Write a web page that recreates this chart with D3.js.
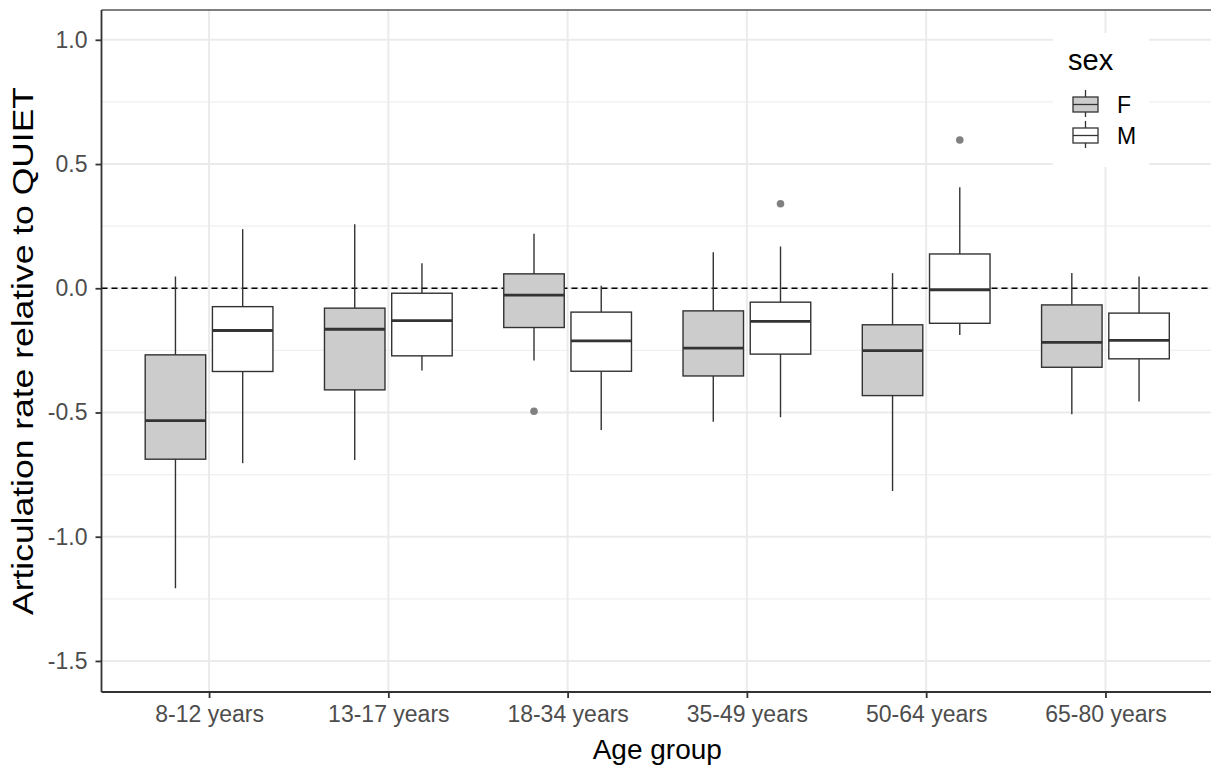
<!DOCTYPE html>
<html>
<head>
<meta charset="utf-8">
<script src="https://cdn.jsdelivr.net/npm/d3@7"></script>
<style>
  html, body { margin: 0; padding: 0; background: #fff; }
  #content { width: 1211px; height: 767px; overflow: hidden; }
  svg { display: block; font-family: "Liberation Sans", Arial, sans-serif; }
  .axis path, .axis line { stroke: #333; }
  .axis text { fill: #4d4d4d; font-size: 23px; }
</style>
</head>
<body>
<div id="content"></div>
<script>
// age groups on the x axis
var ageGroups = ["8-12 years", "13-17 years", "18-34 years", "35-49 years", "50-64 years", "65-80 years"];
var sexes = ["F", "M"];
// five number summaries: [lower whisker, q1, median, q3, upper whisker]
var femaleBoxes = [
    [-1.207, -0.688, -0.533, -0.268, 0.047],
    [-0.691, -0.409, -0.165, -0.080, 0.258],
    [-0.291, -0.158, -0.028, 0.058, 0.219],
    [-0.537, -0.353, -0.241, -0.091, 0.145],
    [-0.816, -0.432, -0.251, -0.147, 0.061],
    [-0.507, -0.318, -0.218, -0.067, 0.061]
];
var maleBoxes = [
    [-0.704, -0.335, -0.170, -0.074, 0.238],
    [-0.331, -0.272, -0.130, -0.020, 0.101],
    [-0.570, -0.334, -0.212, -0.096, 0.010],
    [-0.519, -0.265, -0.133, -0.056, 0.168],
    [-0.188, -0.141, -0.006, 0.138, 0.407],
    [-0.456, -0.284, -0.210, -0.100, 0.047]
];
// outliers: [age group, value]
var femaleOutliers = [["18-34 years", -0.495]];
var maleOutliers = [["35-49 years", 0.340], ["50-64 years", 0.597]];
var yTicks = [-1.5, -1.0, -0.5, 0.0, 0.5, 1.0];
var yMinorTicks = [-1.25, -0.75, -0.25, 0.25, 0.75];
var fills = {F: "#cccccc", M: "#ffffff"};

(function(d3) {
    var width = 1211, height = 767;
    var margin = {top: 10, left: 101.5, bottom: 75};

    var svg = d3.select("#content").append("svg")
        .attr("width", width).attr("height", height);

    var x = d3.scalePoint()
        .domain(ageGroups)
        .range([margin.left, 1213])
        .padding(0.6);
    var step = x.step();
    var dodge = d3.scaleBand().domain(sexes).range([-0.375 * step, 0.375 * step]);
    var boxW = dodge.bandwidth() * 0.9;

    var y = d3.scaleLinear()
        .domain([-1.625, 1.12])
        .range([height - margin.bottom, margin.top]);

    var plotBottom = height - margin.bottom;

    // grid
    var grid = svg.append("g");
    grid.selectAll("line.minor").data(yMinorTicks).enter().append("line")
        .attr("x1", margin.left).attr("x2", width)
        .attr("y1", function(d) { return y(d); }).attr("y2", function(d) { return y(d); })
        .attr("stroke", "#f0f0f0").attr("stroke-width", 1.2);
    grid.selectAll("line.hmajor").data(yTicks).enter().append("line")
        .attr("x1", margin.left).attr("x2", width)
        .attr("y1", function(d) { return y(d); }).attr("y2", function(d) { return y(d); })
        .attr("stroke", "#ebebeb").attr("stroke-width", 2);
    grid.selectAll("line.vmajor").data(ageGroups).enter().append("line")
        .attr("y1", margin.top).attr("y2", plotBottom)
        .attr("x1", function(d) { return x(d); }).attr("x2", function(d) { return x(d); })
        .attr("stroke", "#ebebeb").attr("stroke-width", 2);

    // zero reference line
    svg.append("line")
        .attr("x1", margin.left).attr("x2", width)
        .attr("y1", y(0)).attr("y2", y(0))
        .attr("stroke", "#000").attr("stroke-width", 1.4)
        .attr("stroke-dasharray", "6,4");

    function drawBoxes(boxes, sex) {
        var g = svg.append("g");
        var data = boxes.map(function(b, i) { return {group: ageGroups[i], s: b}; });
        var cx = function(d) { return x(d.group) + dodge(sex) + dodge.bandwidth() / 2; };
        g.selectAll("line.whisker").data(data).enter().append("line")
            .attr("x1", cx).attr("x2", cx)
            .attr("y1", function(d) { return y(d.s[0]); })
            .attr("y2", function(d) { return y(d.s[4]); })
            .attr("stroke", "#333").attr("stroke-width", 1.4);
        g.selectAll("rect").data(data).enter().append("rect")
            .attr("x", function(d) { return cx(d) - boxW / 2; })
            .attr("width", boxW)
            .attr("y", function(d) { return y(d.s[3]); })
            .attr("height", function(d) { return y(d.s[1]) - y(d.s[3]); })
            .attr("fill", fills[sex]).attr("stroke", "#333").attr("stroke-width", 1.4);
        g.selectAll("line.median").data(data).enter().append("line")
            .attr("x1", function(d) { return cx(d) - boxW / 2; })
            .attr("x2", function(d) { return cx(d) + boxW / 2; })
            .attr("y1", function(d) { return y(d.s[2]); })
            .attr("y2", function(d) { return y(d.s[2]); })
            .attr("stroke", "#333").attr("stroke-width", 2.8);
    }
    drawBoxes(femaleBoxes, "F");
    drawBoxes(maleBoxes, "M");

    function drawOutliers(points, sex) {
        svg.append("g").selectAll("circle").data(points).enter().append("circle")
            .attr("cx", function(d) { return x(d[0]) + dodge(sex) + dodge.bandwidth() / 2; })
            .attr("cy", function(d) { return y(d[1]); })
            .attr("r", 3.8)
            .attr("fill", "#808080");
    }
    drawOutliers(femaleOutliers, "F");
    drawOutliers(maleOutliers, "M");

    // legend
    var legend = svg.append("g").attr("transform", "translate(1053,33)");
    legend.append("rect").attr("width", 96).attr("height", 134).attr("fill", "#fff");
    legend.append("text").attr("x", 15).attr("y", 37)
        .attr("font-size", 29).attr("fill", "#000").text("sex");
    sexes.forEach(function(s, i) {
        var ky = 64 + i * 31;
        var k = legend.append("g").attr("transform", "translate(20," + ky + ")");
        k.append("line").attr("x1", 12.5).attr("x2", 12.5).attr("y1", -7).attr("y2", 20)
            .attr("stroke", "#333").attr("stroke-width", 1.3);
        k.append("rect").attr("x", 0).attr("y", 0).attr("width", 25).attr("height", 15)
            .attr("fill", fills[s]).attr("stroke", "#333").attr("stroke-width", 1.3);
        k.append("line").attr("x1", 0).attr("x2", 25).attr("y1", 7.5).attr("y2", 7.5)
            .attr("stroke", "#333").attr("stroke-width", 1.3);
        legend.append("text").attr("x", 64).attr("y", ky + 16)
            .attr("font-size", 23).attr("fill", "#000").text(s);
    });

    // panel border
    svg.append("line").attr("x1", margin.left).attr("x2", width)
        .attr("y1", margin.top).attr("y2", margin.top)
        .attr("stroke", "#555").attr("stroke-width", 1.3);

    // axes
    svg.append("g")
        .attr("class", "axis yaxis")
        .attr("transform", "translate(" + margin.left + ",0)")
        .call(d3.axisLeft(y).tickValues(yTicks).tickSize(6).tickPadding(8)
            .tickFormat(function(d) { return d.toFixed(1); }))
        .call(function(g) { g.select(".domain").attr("stroke-width", 1.8).attr("d", "M0," + margin.top + "V" + plotBottom); })
        .selectAll(".tick line").attr("stroke-width", 1.8);

    svg.append("g")
        .attr("class", "axis xaxis")
        .attr("transform", "translate(0," + plotBottom + ")")
        .call(d3.axisBottom(x).tickSize(6).tickPadding(8))
        .call(function(g) { g.select(".domain").attr("stroke-width", 2).attr("d", "M" + margin.left + ",0H" + width); })
        .selectAll(".tick line").attr("stroke-width", 1.8);

    // axis titles
    svg.append("text")
        .attr("x", x("35-49 years") - step / 2).attr("y", 759)
        .attr("text-anchor", "middle").attr("font-size", 28).attr("fill", "#000")
        .text("Age group");
    svg.append("text")
        .attr("transform", "translate(33," + ((margin.top + plotBottom) / 2) + ") rotate(-90)")
        .attr("text-anchor", "middle").attr("font-size", 29).attr("fill", "#000")
        .attr("textLength", 528).attr("lengthAdjust", "spacingAndGlyphs")
        .text("Articulation rate relative to QUIET");
})(d3);
</script>
</body>
</html>
